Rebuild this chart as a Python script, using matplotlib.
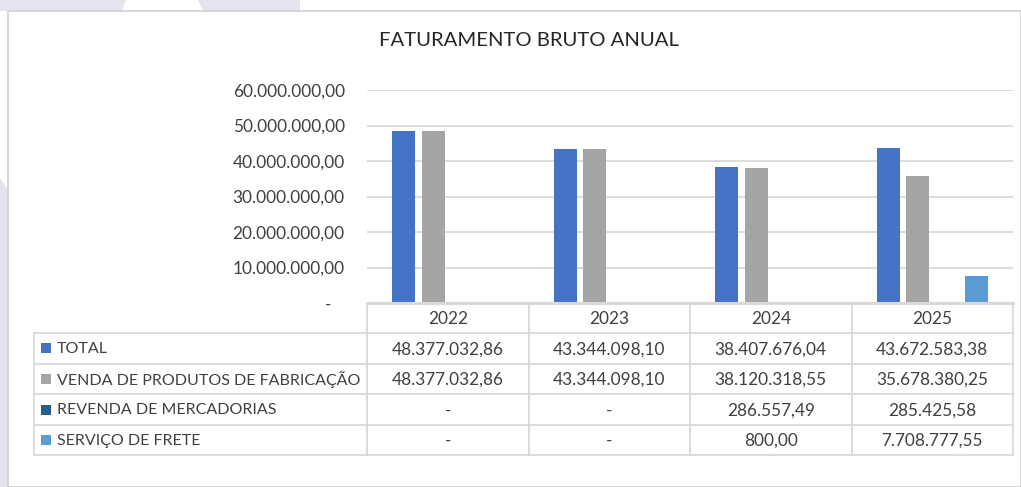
import matplotlib

matplotlib.use("Agg")
import matplotlib.pyplot as plt
from matplotlib.patches import Polygon, Rectangle

# ── palette (Excel office theme) ─────────────────────────────────────
BLUE = "#4472c4"
GRAY = "#a5a5a5"
DARK_BLUE = "#255e91"
LIGHT_BLUE = "#5b9bd5"
GRID = "#d9d9d9"
TEXT = "#404040"
LAVENDER = "#e4e4ee"

plt.rcParams["font.family"] = ["Lato", "DejaVu Sans"]

# ── data ─────────────────────────────────────────────────────────────
YEARS = ["2022", "2023", "2024", "2025"]
SERIES = ["TOTAL", "VENDA DE PRODUTOS DE FABRICAÇÃO",
          "REVENDA DE MERCADORIAS", "SERVIÇO DE FRETE"]
TOTAL = [48377032.86, 43344098.10, 38407676.04, 43672583.38]
VENDA = [48377032.86, 43344098.10, 38120318.55, 35678380.25]
REVENDA = [0, 0, 286557.49, 285425.58]
FRETE = [0, 0, 800.00, 7708777.55]
COLORS = [BLUE, GRAY, DARK_BLUE, LIGHT_BLUE]
YTICKS = [0, 10e6, 20e6, 30e6, 40e6, 50e6, 60e6]

W, H = 1021, 487
LABEL_FS = 11.5   # row labels
NUM_FS = 12.4     # numbers (Lato digits run narrow vs Calibri)


def br(v):
    if v == 0:
        return "-"
    s = f"{v:,.2f}"
    return s.replace(",", "X").replace(".", ",").replace("X", ".")


fig = plt.figure(figsize=(W / 100, H / 100), dpi=100)
fig.patch.set_facecolor("white")

# overlay in pixel coordinates: background, chart box, data table
bg = fig.add_axes([0, 0, 1, 1])
bg.set_xlim(0, W)
bg.set_ylim(H, 0)
bg.axis("off")
bg.add_patch(Polygon([(0, 0), (126, 0), (122, 11), (0, 11)], color=LAVENDER, lw=0))
bg.add_patch(Polygon([(198, 0), (300, 0), (300, 11), (203, 11)], color=LAVENDER, lw=0))
bg.add_patch(Polygon([(0, 178), (8, 190), (8, H), (0, H)], color=LAVENDER, lw=0))
bg.add_patch(Rectangle((8, 11), W - 8, H - 11, facecolor="white", edgecolor="#d0d0d0", lw=1.2))

bg.text(529, 41, "FATURAMENTO BRUTO ANUAL", ha="center", va="center",
        fontsize=14.6, color="#262626")

# plot area geometry (pixels)
PL, PR, PT, PB = 367, 1013, 90, 303
col_w = (PR - PL) / len(YEARS)
rows = [303, 333, 363.5, 394, 425, 455]
TL = 34

lk = dict(color=GRID, lw=1.3, zorder=1)
for y in rows[1:]:
    bg.plot([TL, PR], [y, y], **lk)
bg.plot([TL, TL], [rows[1], rows[-1]], **lk)
for i in range(len(YEARS) + 1):
    x = PL + i * col_w
    bg.plot([x, x], [rows[0], rows[-1]], **lk)

for i, yr in enumerate(YEARS):
    bg.text(PL + (i + 0.5) * col_w, (rows[0] + rows[1]) / 2 + 1, yr,
            ha="center", va="center", fontsize=NUM_FS, color=TEXT)

for r, (name, vals, c) in enumerate(zip(SERIES, [TOTAL, VENDA, REVENDA, FRETE], COLORS)):
    yc = (rows[r + 1] + rows[r + 2]) / 2
    bg.add_patch(Rectangle((41, yc - 5), 10, 10, color=c, lw=0))
    bg.text(57, yc + 1, name, ha="left", va="center", fontsize=LABEL_FS, color=TEXT)
    for i, v in enumerate(vals):
        bg.text(PL + (i + 0.5) * col_w, yc + 1, br(v), ha="center", va="center",
                fontsize=NUM_FS, color=TEXT)

# bar chart
ax = fig.add_axes([PL / W, (H - PB) / H, (PR - PL) / W, (PB - PT) / H])
ax.set_facecolor("none")
x = range(len(YEARS))
width = 0.142
offsets = [-0.272, -0.09, 0.09, 0.272]
for vals, c, off in zip([TOTAL, VENDA, REVENDA, FRETE], COLORS, offsets):
    ax.bar([i + off for i in x], vals, width=width, color=c, zorder=3)

ax.set_xlim(-0.5, len(YEARS) - 0.5)
ax.set_ylim(0, 60e6)
ax.set_yticks(YTICKS)
ax.set_yticklabels(["-   "] + [br(v) for v in YTICKS[1:]])
ax.set_xticks([])
ax.tick_params(axis="y", length=0, pad=16, labelsize=NUM_FS, labelcolor=TEXT)
ax.grid(axis="y", color=GRID, lw=1.3, zorder=0)
# table header line doubles as the category axis
ax.axhline(0, color=GRID, lw=2.2, zorder=4, clip_on=False)
for s in ax.spines.values():
    s.set_visible(False)

fig.savefig("out.png", dpi=100)
